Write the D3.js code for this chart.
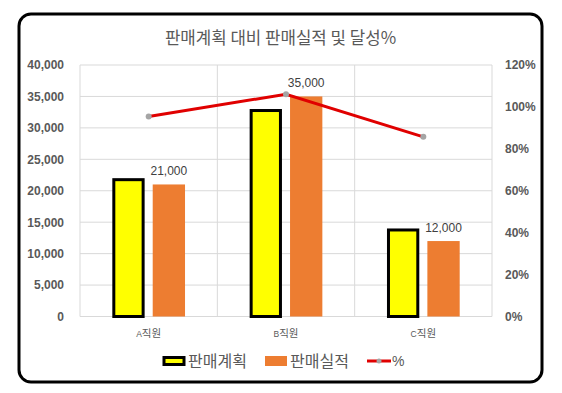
<!DOCTYPE html>
<html>
<head>
<meta charset="utf-8">
<script src="https://cdn.jsdelivr.net/npm/d3@7"></script>
<style>
  body { margin: 0; background: #fff; }
  text { font-family: "Liberation Sans", Arial, sans-serif; }
  .kr { font-family: "Noto Sans CJK KR", "Noto Sans", sans-serif; }
</style>
</head>
<body>
<div id="chart"></div>
<script>
const categories = ["A직원", "B직원", "C직원"];
const planValues = [22000, 33000, 14000];
const actualValues = [21000, 35000, 12000];
const rateValues = [0.9545, 1.0606, 0.8571];
const leftTicks = [0, 5000, 10000, 15000, 20000, 25000, 30000, 35000, 40000];
const rightTicks = [0, 0.2, 0.4, 0.6, 0.8, 1.0, 1.2];
const seriesNames = ["판매계획", "판매실적"];

const width = 562, height = 393;
const plot = { left: 80, right: 492, top: 65, bottom: 316.5 };

const svg = d3.select("#chart").append("svg")
  .attr("width", width)
  .attr("height", height);

// frame
svg.append("rect")
  .attr("x", 19).attr("y", 14)
  .attr("width", 523).attr("height", 368)
  .attr("rx", 12).attr("ry", 12)
  .attr("fill", "#fff")
  .attr("stroke", "#000")
  .attr("stroke-width", 3);

// title
svg.append("text")
  .attr("class", "kr")
  .attr("x", 280.5).attr("y", 44)
  .attr("text-anchor", "middle")
  .attr("font-size", 16.8)
  .attr("fill", "#595959")
  .text("판매계획 대비 판매실적 및 달성%");

// scales
const x0 = d3.scaleBand()
  .domain(categories)
  .range([plot.left, plot.right]);

const x1 = d3.scaleBand()
  .domain(seriesNames)
  .range([0, x0.bandwidth()])
  .paddingInner(0.2)
  .paddingOuter(0.8);

const y = d3.scaleLinear()
  .domain([0, 40000])
  .range([plot.bottom, plot.top]);

const y2 = d3.scaleLinear()
  .domain([0, 1.2])
  .range([plot.bottom, plot.top]);

// horizontal gridlines
svg.append("g")
  .selectAll("line")
  .data(leftTicks)
  .enter()
  .append("line")
  .attr("x1", plot.left).attr("x2", plot.right)
  .attr("y1", d => y(d)).attr("y2", d => y(d))
  .attr("stroke", "#d9d9d9").attr("stroke-width", 1);

// vertical gridlines on category boundaries
const bounds = categories.map(c => x0(c)).concat([plot.right]);
svg.append("g")
  .selectAll("line")
  .data(bounds)
  .enter()
  .append("line")
  .attr("x1", d => d).attr("x2", d => d)
  .attr("y1", plot.top).attr("y2", plot.bottom)
  .attr("stroke", "#d9d9d9").attr("stroke-width", 1);

// left axis
const leftAxis = svg.append("g")
  .attr("transform", "translate(" + (plot.left - 16) + ",0)")
  .call(d3.axisLeft(y).tickValues(leftTicks).tickSize(0).tickPadding(0).tickFormat(d3.format(",")));
leftAxis.select(".domain").remove();
leftAxis.selectAll("text")
  .attr("font-family", "'Liberation Sans', Arial, sans-serif")
  .attr("font-size", 12)
  .attr("font-weight", "bold")
  .attr("fill", "#595959");

// right axis
const rightAxis = svg.append("g")
  .attr("transform", "translate(" + (plot.right + 13) + ",0)")
  .call(d3.axisRight(y2).tickValues(rightTicks).tickSize(0).tickPadding(0).tickFormat(d3.format(".0%")));
rightAxis.select(".domain").remove();
rightAxis.selectAll("text")
  .attr("font-family", "'Liberation Sans', Arial, sans-serif")
  .attr("font-size", 12)
  .attr("font-weight", "bold")
  .attr("fill", "#595959");

// category labels
const catLabels = svg.append("g")
  .selectAll("text")
  .data(categories)
  .enter()
  .append("text")
  .attr("x", d => x0(d) + x0.bandwidth() / 2)
  .attr("y", 337)
  .attr("text-anchor", "middle")
  .attr("fill", "#595959");
catLabels.append("tspan")
  .attr("font-size", 8.5)
  .text(d => d.slice(0, 1));
catLabels.append("tspan")
  .attr("class", "kr")
  .attr("font-size", 10.5)
  .text(d => d.slice(1));

// plan bars (yellow, black outline)
svg.append("g")
  .selectAll("rect")
  .data(planValues)
  .enter()
  .append("rect")
  .attr("x", (d, i) => x0(categories[i]) + x1(seriesNames[0]) + 1.5)
  .attr("y", d => y(d) + 1.5)
  .attr("width", x1.bandwidth() - 3)
  .attr("height", d => plot.bottom - y(d) - 1.5)
  .attr("fill", "#ffff00")
  .attr("stroke", "#000")
  .attr("stroke-width", 3);

// actual bars (orange)
svg.append("g")
  .selectAll("rect")
  .data(actualValues)
  .enter()
  .append("rect")
  .attr("x", (d, i) => x0(categories[i]) + x1(seriesNames[1]))
  .attr("y", d => y(d))
  .attr("width", x1.bandwidth())
  .attr("height", d => plot.bottom - y(d))
  .attr("fill", "#ed7d31");

// actual labels
svg.append("g")
  .selectAll("text")
  .data(actualValues)
  .enter()
  .append("text")
  .attr("x", (d, i) => x0(categories[i]) + x1(seriesNames[1]) + x1.bandwidth() / 2)
  .attr("y", d => y(d) - 9)
  .attr("text-anchor", "middle")
  .attr("font-size", 12)
  .attr("fill", "#404040")
  .text(d => d3.format(",")(d));

// rate line
const lineGen = d3.line()
  .x((d, i) => x0(categories[i]) + x0.bandwidth() / 2)
  .y(d => y2(d));

svg.append("path")
  .datum(rateValues)
  .attr("d", lineGen)
  .attr("fill", "none")
  .attr("stroke", "#e00000")
  .attr("stroke-width", 3);

svg.append("g")
  .selectAll("circle")
  .data(rateValues)
  .enter()
  .append("circle")
  .attr("cx", (d, i) => x0(categories[i]) + x0.bandwidth() / 2)
  .attr("cy", d => y2(d))
  .attr("r", 3)
  .attr("fill", "#a5a5a5");

// legend
const legend = svg.append("g").attr("transform", "translate(0,361)");
legend.append("rect")
  .attr("x", 164).attr("y", -3.5)
  .attr("width", 20).attr("height", 7)
  .attr("fill", "#ffff00").attr("stroke", "#000").attr("stroke-width", 3);
legend.append("text")
  .attr("class", "kr")
  .attr("x", 188).attr("y", 6)
  .attr("font-size", 16).attr("fill", "#595959")
  .text(seriesNames[0]);
legend.append("rect")
  .attr("x", 265).attr("y", -5)
  .attr("width", 22).attr("height", 10)
  .attr("fill", "#ed7d31");
legend.append("text")
  .attr("class", "kr")
  .attr("x", 290).attr("y", 6)
  .attr("font-size", 16).attr("fill", "#595959")
  .text(seriesNames[1]);
legend.append("line")
  .attr("x1", 367).attr("x2", 391)
  .attr("y1", 0).attr("y2", 0)
  .attr("stroke", "#e00000").attr("stroke-width", 3);
legend.append("circle")
  .attr("cx", 379).attr("cy", 0).attr("r", 2.5)
  .attr("fill", "#a5a5a5");
legend.append("text")
  .attr("x", 392).attr("y", 5)
  .attr("font-size", 14).attr("fill", "#595959")
  .text("%");
</script>
</body>
</html>
